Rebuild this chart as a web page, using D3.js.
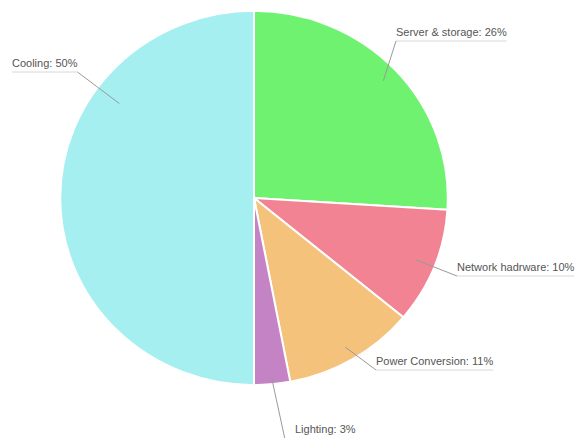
<!DOCTYPE html>
<html>
<head>
<meta charset="utf-8">
<script src="https://cdn.jsdelivr.net/npm/d3@7"></script>
<style>
  html, body { margin: 0; padding: 0; background: #fff; }
  svg { display: block; }
  .lbl { font-family: "Liberation Sans", Arial, Helvetica, sans-serif; font-size: 11px; fill: #555; }
  .leader { fill: none; stroke: #9a9a9a; stroke-width: 1; }
  .underline { stroke: #d8d8d8; stroke-width: 1; }
</style>
</head>
<body>
<div id="chart"></div>
<script>
// Data centre energy use, share by component (percent).
const categories = ["Server & storage", "Network hadrware", "Power Conversion", "Lighting", "Cooling"];
const shares = [26, 10, 11, 3, 50];
const colors = ["#6ff26f", "#f28393", "#f5c27c", "#c383c4", "#a6eff1"];

const W = 579, H = 438;
const cx = 254, cy = 198, R = 190;
const SX = 1.02, SY = 0.985; // source image is slightly stretched sideways

// Label layout: text left x / baseline y, plus where the leader enters the slice.
const labelLayout = {
  "Server & storage": { x: 396, y: 36, innerR: 174 },
  "Network hadrware": { x: 457, y: 271, innerR: 170 },
  "Power Conversion": { x: 376, y: 365, innerR: 176 },
  "Lighting": { x: 295, y: 433, innerR: 183, joinX: 286, joinY: 444 },
  "Cooling": { x: 12, y: 67, innerR: 163, angle: 306 * Math.PI / 180 }
};

const svg = d3.select("#chart").append("svg").attr("width", W).attr("height", H);
const g = svg.append("g").attr("transform", `translate(${cx},${cy}) scale(${SX},${SY})`);

const rows = categories.map((c, i) => ({ name: c, value: shares[i], color: colors[i] }));
const pie = d3.pie().value((d) => d.value).sort(null);
const arc = d3.arc().innerRadius(0).outerRadius(R);
const arcs = pie(rows);

g.selectAll("path.slice").data(arcs).join("path")
  .attr("class", "slice")
  .attr("d", arc)
  .attr("fill", (d) => d.data.color)
  .attr("stroke", "#fff")
  .attr("stroke-width", 2)
  .attr("vector-effect", "non-scaling-stroke")
  .attr("stroke-linejoin", "round");

// Labels with leader lines and a thin rule under the text.
const lg = svg.append("g");
arcs.forEach((d) => {
  const L = labelLayout[d.data.name];
  const a = L.angle != null ? L.angle : (d.startAngle + d.endAngle) / 2;
  const ix = cx + SX * L.innerR * Math.sin(a), iy = cy - SY * L.innerR * Math.cos(a);
  const text = lg.append("text").attr("class", "lbl")
    .attr("x", L.x).attr("y", L.y).text(`${d.data.name}: ${d.value}%`);
  const w = text.node().getComputedTextLength();
  const uy = L.joinY != null ? L.joinY : L.y + 5;
  lg.append("line").attr("class", "underline")
    .attr("x1", L.joinX != null ? L.joinX : L.x).attr("x2", L.x + w).attr("y1", uy).attr("y2", uy);
  // leader joins the rule at whichever end faces the pie
  const jx = L.joinX != null ? L.joinX : (L.x + w / 2 < ix ? L.x + w : L.x);
  lg.append("line").attr("class", "leader")
    .attr("x1", ix).attr("y1", iy).attr("x2", jx).attr("y2", uy);
});
</script>
</body>
</html>
